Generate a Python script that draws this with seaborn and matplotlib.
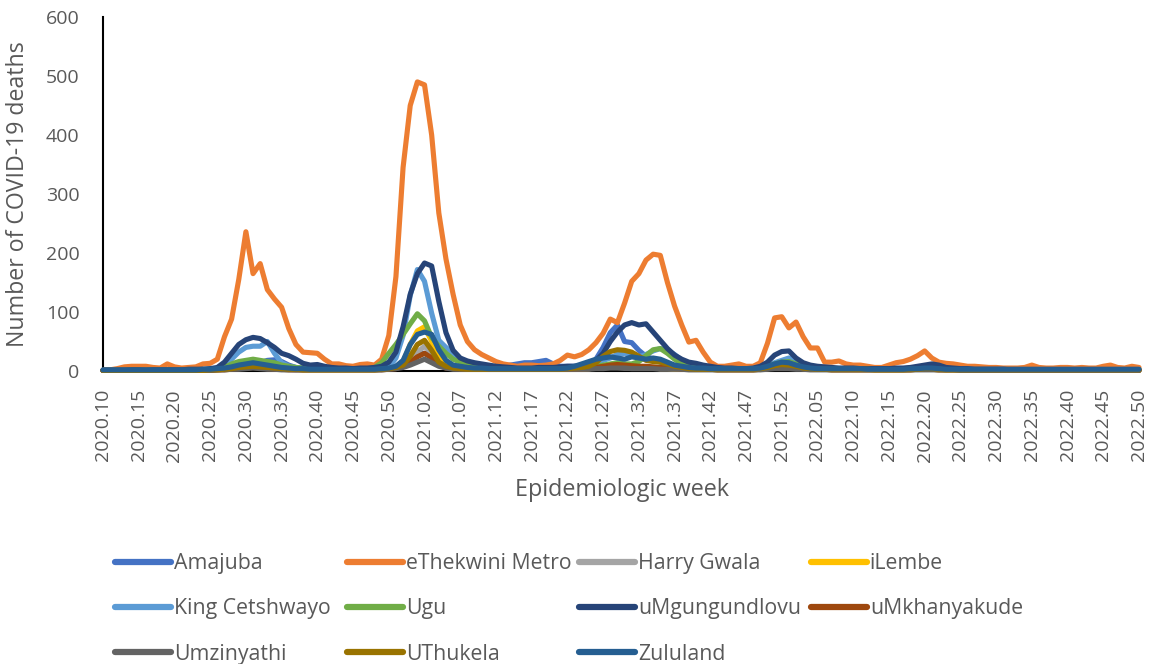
import matplotlib
matplotlib.use("Agg")
import matplotlib.pyplot as plt
import seaborn as sns
import pandas as pd
import numpy as np

# ---------------- data ----------------
# epidemiologic weeks: 2020.10 - 2020.53, 2021.01 - 2021.52, 2022.01 - 2022.50
WEEKS = ([f"2020.{w:02d}" for w in range(10, 54)] +
         [f"2021.{w:02d}" for w in range(1, 53)] +
         [f"2022.{w:02d}" for w in range(1, 51)])

TICK_LABELS = ["2020.10", "2020.15", "2020.20", "2020.25", "2020.30", "2020.35",
               "2020.40", "2020.45", "2020.50", "2021.02", "2021.07", "2021.12",
               "2021.17", "2021.22", "2021.27", "2021.32", "2021.37", "2021.42",
               "2021.47", "2021.52", "2022.05", "2022.10", "2022.15", "2022.20",
               "2022.25", "2022.30", "2022.35", "2022.40", "2022.45", "2022.50"]

amajuba = [
    1, 1, 1, 1, 1, 1, 1, 1, 1, 1,
    1, 1, 1, 1, 2, 2, 3, 4, 6, 8,
    10, 12, 14, 18, 19, 16, 10, 6, 4, 3,
    3, 3, 3, 3, 3, 3, 3, 3, 3, 4,
    5, 8, 14, 22, 28, 30, 24, 15, 10, 8,
    6, 5, 5, 5, 5, 6, 8, 10, 12, 14,
    14, 16, 18, 12, 8, 8, 8, 8, 10, 20,
    40, 65, 78, 50, 48, 35, 25, 20, 15, 10,
    8, 6, 5, 4, 4, 4, 4, 4, 4, 4,
    4, 4, 5, 6, 8, 10, 10, 8, 6, 5,
    4, 4, 4, 4, 4, 4, 3, 3, 3, 3,
    3, 3, 3, 4, 4, 5, 5, 4, 3, 3,
    3, 3, 2, 2, 2, 2, 2, 2, 2, 2,
    2, 2, 2, 2, 2, 2, 2, 2, 2, 2,
    2, 2, 2, 2, 2, 2]

ethekwini = [
    1, 2, 4, 7, 8, 8, 8, 6, 5, 12,
    7, 5, 6, 7, 12, 13, 20, 58, 88, 155,
    236, 165, 182, 138, 122, 108, 72, 45, 32, 31,
    30, 20, 12, 12, 9, 8, 11, 12, 10, 20,
    60, 160, 345, 450, 490, 485, 400, 268, 190, 130,
    78, 50, 36, 28, 22, 16, 12, 10, 8, 10,
    10, 9, 10, 12, 18, 27, 24, 28, 36, 48,
    64, 88, 82, 115, 152, 165, 188, 198, 196, 150,
    110, 78, 49, 52, 32, 15, 8, 8, 10, 12,
    8, 8, 14, 47, 90, 92, 73, 83, 58, 39,
    39, 15, 15, 17, 12, 10, 10, 8, 6, 6,
    10, 14, 16, 20, 26, 34, 22, 15, 13, 12,
    10, 8, 8, 7, 6, 6, 5, 5, 5, 6,
    10, 6, 5, 5, 6, 6, 5, 6, 5, 5,
    8, 10, 6, 5, 8, 6]

harry_gwala = [
    1, 1, 1, 1, 1, 1, 1, 1, 1, 1,
    1, 1, 1, 1, 1, 2, 2, 3, 4, 5,
    6, 7, 6, 5, 4, 3, 3, 2, 2, 2,
    2, 2, 2, 2, 2, 2, 2, 2, 2, 3,
    4, 6, 10, 20, 32, 42, 30, 14, 8, 5,
    4, 3, 3, 3, 3, 3, 3, 3, 3, 3,
    3, 3, 3, 3, 3, 3, 3, 4, 4, 5,
    6, 6, 6, 5, 5, 5, 5, 5, 4, 4,
    3, 3, 3, 3, 3, 3, 2, 2, 2, 2,
    2, 2, 3, 4, 5, 6, 6, 5, 4, 3,
    3, 3, 2, 2, 2, 2, 2, 2, 2, 2,
    2, 2, 2, 2, 3, 3, 3, 2, 2, 2,
    2, 2, 1, 1, 1, 1, 1, 1, 1, 1,
    1, 1, 1, 1, 1, 1, 1, 1, 1, 1,
    1, 1, 1, 1, 1, 1]

ilembe = [
    1, 1, 1, 1, 1, 1, 1, 1, 1, 1,
    1, 1, 1, 1, 1, 2, 2, 3, 5, 7,
    9, 10, 9, 7, 6, 4, 3, 3, 2, 2,
    2, 2, 2, 2, 2, 2, 2, 2, 2, 3,
    4, 6, 15, 45, 68, 75, 50, 22, 12, 7,
    5, 4, 3, 3, 3, 3, 3, 3, 3, 3,
    3, 3, 3, 3, 3, 3, 3, 3, 4, 5,
    6, 8, 8, 7, 6, 6, 5, 5, 4, 4,
    3, 3, 3, 3, 3, 3, 2, 2, 2, 2,
    2, 2, 3, 4, 5, 6, 6, 5, 4, 3,
    3, 3, 2, 2, 2, 2, 2, 2, 2, 2,
    2, 2, 2, 2, 3, 3, 3, 2, 2, 2,
    2, 2, 1, 1, 1, 1, 1, 1, 1, 1,
    1, 1, 1, 1, 1, 1, 1, 1, 1, 1,
    1, 1, 1, 1, 1, 1]

king_cetshwayo = [
    1, 1, 1, 1, 1, 1, 1, 1, 1, 1,
    1, 1, 1, 2, 2, 3, 4, 8, 20, 32,
    40, 42, 42, 50, 30, 14, 8, 6, 5, 4,
    4, 3, 3, 3, 3, 3, 3, 3, 3, 4,
    6, 22, 60, 128, 172, 152, 98, 52, 40, 30,
    20, 12, 8, 6, 5, 4, 4, 4, 4, 4,
    4, 4, 5, 5, 5, 5, 6, 8, 10, 14,
    18, 22, 28, 30, 28, 24, 28, 34, 38, 35,
    28, 18, 12, 8, 6, 5, 4, 4, 4, 4,
    4, 4, 5, 8, 14, 18, 22, 18, 10, 6,
    5, 4, 4, 4, 4, 4, 4, 4, 3, 3,
    3, 3, 4, 5, 6, 6, 5, 4, 3, 3,
    3, 3, 2, 2, 2, 2, 2, 2, 2, 2,
    2, 2, 2, 2, 2, 2, 2, 2, 2, 2,
    2, 2, 2, 2, 2, 2]

ugu = [
    1, 1, 1, 1, 1, 1, 1, 1, 1, 1,
    1, 1, 1, 1, 2, 3, 4, 6, 12, 16,
    18, 20, 18, 16, 14, 10, 8, 6, 5, 4,
    4, 3, 3, 3, 3, 3, 4, 4, 6, 14,
    30, 45, 62, 80, 97, 85, 57, 42, 30, 20,
    15, 10, 8, 6, 5, 5, 4, 4, 4, 4,
    4, 4, 4, 5, 5, 5, 5, 6, 6, 8,
    10, 12, 14, 12, 12, 16, 26, 36, 38, 30,
    20, 12, 8, 6, 5, 4, 4, 4, 4, 4,
    4, 4, 5, 8, 12, 15, 16, 12, 8, 6,
    5, 4, 4, 4, 4, 4, 4, 3, 3, 3,
    3, 3, 3, 4, 5, 6, 5, 4, 3, 3,
    2, 2, 2, 2, 2, 2, 2, 2, 2, 2,
    2, 2, 2, 2, 2, 2, 2, 2, 2, 2,
    2, 2, 2, 2, 2, 2]

umgungundlovu = [
    1, 1, 1, 1, 2, 2, 1, 2, 2, 2,
    2, 2, 3, 3, 3, 4, 6, 15, 30, 45,
    53, 57, 55, 48, 40, 30, 26, 20, 13, 10,
    11, 8, 6, 5, 5, 4, 5, 5, 6, 8,
    15, 32, 75, 130, 165, 183, 178, 118, 65, 35,
    22, 17, 14, 12, 10, 8, 7, 6, 5, 5,
    5, 6, 6, 6, 7, 8, 8, 8, 12, 18,
    30, 50, 66, 78, 82, 78, 80, 66, 52, 38,
    27, 20, 15, 13, 10, 8, 6, 5, 5, 4,
    4, 5, 8, 15, 27, 33, 34, 22, 14, 10,
    8, 7, 6, 5, 5, 5, 4, 4, 4, 4,
    4, 5, 5, 6, 8, 10, 12, 10, 6, 5,
    4, 4, 3, 3, 3, 3, 3, 2, 2, 2,
    2, 2, 2, 2, 2, 2, 2, 2, 2, 2,
    2, 2, 2, 2, 2, 2]

umkhanyakude = [
    1, 1, 1, 1, 1, 1, 1, 1, 1, 1,
    1, 1, 1, 1, 1, 1, 2, 2, 3, 4,
    5, 6, 5, 4, 3, 3, 2, 2, 2, 2,
    2, 2, 2, 2, 2, 2, 2, 2, 2, 2,
    3, 4, 8, 15, 24, 30, 22, 10, 5, 4,
    3, 3, 3, 3, 3, 3, 3, 3, 3, 3,
    3, 3, 3, 3, 3, 3, 3, 3, 4, 6,
    8, 10, 11, 10, 9, 8, 8, 7, 6, 5,
    4, 3, 3, 3, 3, 3, 2, 2, 2, 2,
    2, 2, 3, 5, 7, 8, 8, 6, 4, 3,
    3, 3, 2, 2, 2, 2, 2, 2, 2, 2,
    2, 2, 2, 2, 3, 3, 3, 2, 2, 2,
    2, 2, 1, 1, 1, 1, 1, 1, 1, 1,
    1, 1, 1, 1, 1, 1, 1, 1, 1, 1,
    1, 1, 1, 1, 1, 1]

umzinyathi = [
    1, 1, 1, 1, 1, 1, 1, 1, 1, 1,
    1, 1, 1, 1, 1, 1, 2, 2, 3, 3,
    4, 5, 4, 3, 3, 2, 2, 2, 2, 2,
    2, 2, 2, 2, 2, 2, 2, 2, 2, 2,
    3, 4, 6, 10, 15, 20, 14, 8, 5, 3,
    3, 3, 3, 3, 3, 3, 3, 3, 3, 3,
    3, 3, 3, 3, 3, 3, 3, 3, 3, 4,
    4, 5, 5, 5, 4, 4, 4, 4, 3, 3,
    3, 3, 2, 2, 2, 2, 2, 2, 2, 2,
    2, 2, 2, 3, 4, 4, 4, 3, 3, 2,
    2, 2, 2, 2, 2, 2, 2, 2, 2, 2,
    2, 2, 2, 2, 2, 2, 2, 2, 2, 2,
    1, 1, 1, 1, 1, 1, 1, 1, 1, 1,
    1, 1, 1, 1, 1, 1, 1, 1, 1, 1,
    1, 1, 1, 1, 1, 1]

uthukela = [
    1, 1, 1, 1, 1, 1, 1, 1, 1, 1,
    1, 1, 1, 1, 1, 2, 2, 3, 4, 6,
    7, 8, 7, 6, 5, 4, 3, 3, 2, 2,
    2, 2, 2, 2, 2, 2, 2, 2, 2, 3,
    4, 6, 10, 25, 45, 52, 35, 15, 8, 5,
    4, 3, 3, 3, 3, 3, 3, 3, 3, 3,
    3, 3, 3, 3, 3, 4, 5, 6, 8, 14,
    25, 33, 36, 35, 32, 25, 18, 16, 15, 12,
    8, 6, 4, 3, 3, 3, 3, 3, 3, 3,
    3, 3, 4, 6, 9, 11, 10, 8, 5, 4,
    3, 3, 3, 3, 3, 3, 3, 3, 2, 2,
    2, 2, 2, 3, 3, 4, 4, 3, 2, 2,
    2, 2, 2, 2, 2, 2, 2, 2, 2, 2,
    2, 2, 2, 2, 2, 2, 2, 2, 2, 2,
    2, 2, 2, 2, 2, 2]

zululand = [
    2, 2, 2, 2, 2, 2, 2, 2, 2, 2,
    2, 2, 2, 2, 3, 3, 4, 5, 7, 10,
    12, 14, 12, 10, 8, 6, 5, 4, 4, 3,
    3, 3, 3, 3, 3, 3, 3, 3, 3, 4,
    5, 8, 18, 45, 62, 66, 62, 36, 18, 10,
    8, 6, 5, 5, 4, 4, 4, 4, 4, 4,
    4, 4, 4, 4, 4, 5, 8, 12, 16, 20,
    22, 24, 22, 20, 24, 22, 20, 22, 20, 15,
    10, 8, 6, 5, 5, 4, 4, 4, 4, 4,
    4, 4, 5, 8, 12, 15, 14, 10, 7, 5,
    4, 4, 4, 4, 4, 4, 4, 3, 3, 3,
    3, 3, 3, 4, 4, 5, 5, 4, 3, 3,
    3, 3, 3, 3, 3, 3, 3, 3, 3, 3,
    3, 3, 3, 3, 3, 3, 3, 3, 3, 3,
    3, 3, 3, 3, 3, 3]

DISTRICTS = ["Amajuba", "eThekwini Metro", "Harry Gwala", "iLembe",
             "King Cetshwayo", "Ugu", "uMgungundlovu", "uMkhanyakude",
             "Umzinyathi", "UThukela", "Zululand"]
SERIES = [amajuba, ethekwini, harry_gwala, ilembe, king_cetshwayo, ugu,
          umgungundlovu, umkhanyakude, umzinyathi, uthukela, zululand]
COLORS = ["#4472C4", "#ED7D31", "#A5A5A5", "#FFC000", "#5B9BD5", "#70AD47",
          "#264478", "#9E480E", "#636363", "#997300", "#255E91"]

# ---------------- build long dataframe ----------------
rows = []
for name, vals in zip(DISTRICTS, SERIES):
    for i, (wk, v) in enumerate(zip(WEEKS, vals)):
        rows.append({"idx": i, "week": wk, "district": name, "deaths": v})
df = pd.DataFrame(rows)

sns.set_theme(style="white")
plt.rcParams["font.family"] = ["Open Sans", "DejaVu Sans"]

W, H = 1157, 664
fig = plt.figure(figsize=(W / 100, H / 100), dpi=100)
ax = fig.add_axes([103 / W, 1 - 371 / H, (1139 - 103) / W, (371 - 17) / H])

sns.lineplot(data=df, x="idx", y="deaths", hue="district",
             hue_order=DISTRICTS, palette=COLORS, linewidth=3.7,
             ax=ax, legend=True, sort=True, estimator=None)
for ln in ax.get_lines():
    ln.set_solid_joinstyle("round")
    ln.set_solid_capstyle("round")
    ln.set_clip_on(False)
    ln.set_zorder(3)

ax.set_xlim(0, len(WEEKS) - 1)
ax.set_ylim(0, 600)
ax.set_yticks(range(0, 601, 100))
ax.set_xticks(range(0, len(WEEKS), 5))
ax.set_xticklabels(TICK_LABELS, rotation=90)
ax.set_xlabel("")
ax.set_ylabel("")

text_col = "#595959"
ax.tick_params(axis="y", labelsize=14, colors=text_col, length=0, pad=17)
ax.tick_params(axis="x", labelsize=14, colors=text_col, length=0, pad=13)
for s in ["top", "right"]:
    ax.spines[s].set_visible(False)
ax.spines["left"].set_color("black")
ax.spines["left"].set_linewidth(1.5)
ax.spines["bottom"].set_color("black")
ax.spines["bottom"].set_linewidth(1.5)
ax.grid(False)

fig.text(18 / W, 1 - 194 / H, "Number of COVID-19 deaths", rotation=90,
         rotation_mode="anchor", ha="center", va="center",
         fontsize=16.7, color=text_col)
fig.text(622 / W, 1 - 490 / H, "Epidemiologic week",
         ha="center", va="center", fontsize=16.8, color=text_col)

# legend: four uniform columns, row-major order as in the reference
handles, labels = ax.get_legend_handles_labels()
ax.get_legend().remove()
hmap = dict(zip(labels, handles))
columns = [["Amajuba", "King Cetshwayo", "Umzinyathi"],
           ["eThekwini Metro", "Ugu", "UThukela"],
           ["Harry Gwala", "uMgungundlovu", "Zululand"],
           ["iLembe", "uMkhanyakude"]]
col_x = [115, 347, 579, 811]
for cx, names in zip(col_x, columns):
    leg = fig.legend([hmap[k] for k in names], names, loc="upper left",
                     bbox_to_anchor=(cx / W, 1 - 553 / H), ncol=1,
                     frameon=False, fontsize=15.3, handlelength=2.65,
                     handletextpad=0.12, labelspacing=1.15,
                     borderpad=0, borderaxespad=0)
    for t in leg.get_texts():
        t.set_color(text_col)
    for lh in leg.get_lines():
        lh.set_linewidth(4.5)
        lh.set_solid_capstyle("round")

fig.savefig("out.png", dpi=100)
